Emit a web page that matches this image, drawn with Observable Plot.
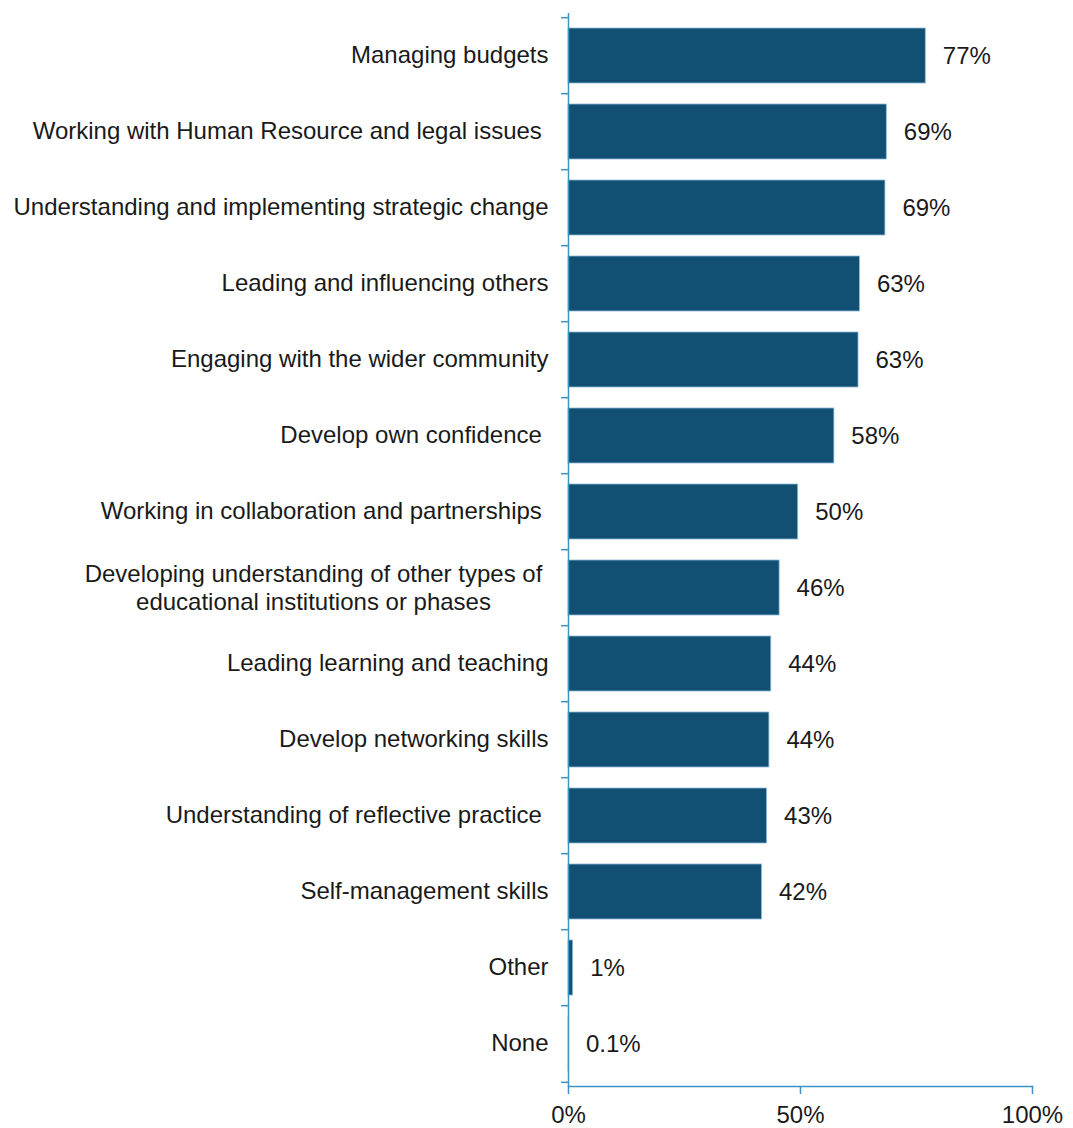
<!DOCTYPE html>
<html>
<head>
<meta charset="utf-8">
<script src="https://cdn.jsdelivr.net/npm/d3@7"></script>
<script src="https://cdn.jsdelivr.net/npm/@observablehq/plot@0.6"></script>
<style>
  html, body { margin: 0; padding: 0; background: #fff; }
</style>
</head>
<body>
<div id="chart"></div>
<script>
const categories = [
  "Managing budgets",
  "Working with Human Resource and legal issues\u00a0",
  "Understanding and implementing strategic change",
  "Leading and influencing others",
  "Engaging with the wider community",
  "Develop own confidence\u00a0",
  "Working in collaboration and partnerships\u00a0",
  "Developing understanding of other types of\neducational institutions or phases",
  "Leading learning and teaching",
  "Develop networking skills",
  "Understanding of reflective practice\u00a0",
  "Self-management skills",
  "Other",
  "None"
];
const values = [77, 68.6, 68.3, 62.8, 62.5, 57.3, 49.5, 45.5, 43.7, 43.3, 42.8, 41.7, 1, 0.1];
const valueLabels = ["77%", "69%", "69%", "63%", "63%", "58%", "50%", "46%", "44%", "44%", "43%", "42%", "1%", "0.1%"];
const xTicks = [0, 50, 100];

const data = categories.map((c, i) => ({category: c, value: values[i], label: valueLabels[i]}));

const W = 1073, H = 1128, mt = 13, mb = 42, ml = 568, mr = 41;
const step = (H - mt - mb) / categories.length;
const axisColor = "#3d93c3";
const barColor = "#114f73";
const textColor = "#1a1a1a";

const single = data.filter(d => !d.category.includes("\n"));
const multi = data.filter(d => d.category.includes("\n"));

const chart = Plot.plot({
  width: W,
  height: H,
  marginTop: mt,
  marginBottom: mb,
  marginLeft: ml,
  marginRight: mr,
  style: {fontFamily: "'Liberation Sans', Arial, sans-serif", fontSize: "24px", color: textColor, background: "#fff"},
  x: {domain: [0, 100], axis: null},
  y: {domain: categories, paddingInner: 0.28, paddingOuter: 0.14, axis: null},
  marks: [
    Plot.barX(data, {x: "value", y: "category", fill: barColor, stroke: "#8fbad6", strokeWidth: 0.8}),
    Plot.ruleX([0], {stroke: axisColor, strokeWidth: 1.5}),
    Plot.frame({anchor: "bottom", stroke: axisColor, strokeWidth: 1.5}),
    Plot.ruleY(categories, {y: d => d, x1: -1.5, x2: 0, dy: -step / 2, stroke: axisColor, strokeWidth: 1.5}),
    Plot.ruleY(categories.slice(-1), {y: d => d, x1: -1.5, x2: 0, dy: step / 2, stroke: axisColor, strokeWidth: 1.5}),
    Plot.axisX({ticks: xTicks, tickFormat: d => d + "%", tickSize: 8, tickPadding: 11, stroke: axisColor, strokeWidth: 1.5, fill: textColor, fontSize: 24, label: null}),
    Plot.text(single, {x: 0, y: "category", text: "category", textAnchor: "end", dx: -20, dy: -1, fill: textColor, fontSize: 24}),
    Plot.text(multi, {x: 0, y: "category", text: "category", textAnchor: "middle", dx: -255, dy: -1, lineHeight: 1.17, fill: textColor, fontSize: 24}),
    Plot.text(data, {x: "value", y: "category", text: "label", textAnchor: "start", dx: 17, fill: textColor, fontSize: 24})
  ]
});
document.getElementById("chart").appendChild(chart);
</script>
</body>
</html>
